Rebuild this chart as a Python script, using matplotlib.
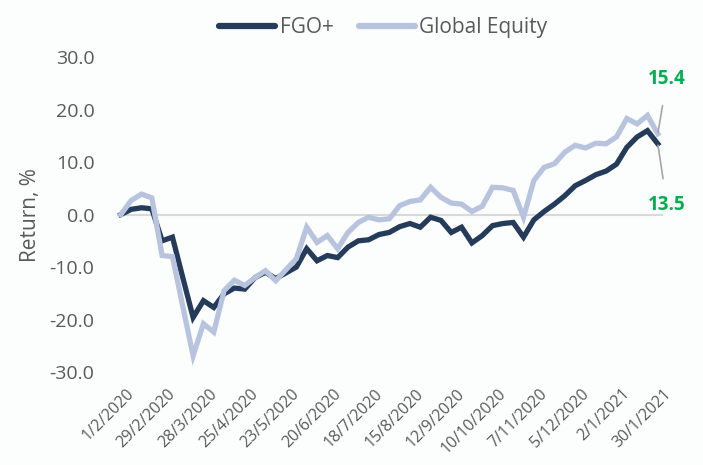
import matplotlib.pyplot as plt
import matplotlib.transforms as mtransforms
import numpy as np

# GLOBAL VARIABLES

C_FGO    = '#243b5a'
C_EQUITY = '#b8c4de'
C_ZERO   = '#d9d9d9'
C_TEXT   = '#595959'
C_LABEL  = '#00b050'

plt.rcParams['font.family'] = ['Open Sans', 'DejaVu Sans']

# weekly returns, 1/2/2020 .. 30/1/2021
fgo = [0.0, 1.0, 1.3, 1.1, -5.0, -4.3, -12.0, -19.6, -16.4, -17.7,
       -15.1, -14.0, -14.2, -12.0, -11.0, -12.2, -11.1, -10.0, -6.5, -8.8,
       -7.8, -8.2, -6.2, -5.0, -4.8, -3.8, -3.4, -2.3, -1.7, -2.4,
       -0.5, -1.1, -3.4, -2.4, -5.4, -4.0, -2.1, -1.7, -1.5, -4.3,
       -1.0, 0.6, 2.0, 3.6, 5.5, 6.5, 7.6, 8.3, 9.6, 12.8,
       14.8, 16.0, 13.5]

equity = [0.0, 2.7, 3.9, 3.2, -7.8, -8.0, -17.5, -26.9, -20.8, -22.4,
          -14.5, -12.5, -13.5, -12.0, -10.7, -12.6, -10.5, -8.4, -2.4, -5.3,
          -4.0, -6.5, -3.4, -1.5, -0.5, -1.0, -0.8, 1.7, 2.5, 2.8,
          5.2, 3.3, 2.2, 2.0, 0.6, 1.6, 5.2, 5.1, 4.6, -0.5,
          6.5, 9.0, 9.7, 11.9, 13.2, 12.7, 13.6, 13.5, 14.8, 18.3,
          17.3, 18.9, 15.4]

tick_labels = ['1/2/2020', '29/2/2020', '28/3/2020', '25/4/2020', '23/5/2020',
               '20/6/2020', '18/7/2020', '15/8/2020', '12/9/2020', '10/10/2020',
               '7/11/2020', '5/12/2020', '2/1/2021', '30/1/2021']
yticks = [30, 20, 10, 0, -10, -20, -30]


# PLOT

fig = plt.figure(figsize=(7.03, 4.65), dpi=100, facecolor='#fcfdfd')
ax  = fig.add_axes([0.166, 0.2, 0.777, 0.677])
ax.set_facecolor('#fcfdfd')

x = np.arange(len(fgo))

ax.axhline(0, color=C_ZERO, lw=1.5, zorder=1)
ax.plot(x, fgo, color=C_FGO, lw=3.8, solid_joinstyle='miter', label='FGO+', zorder=2)
ax.plot(x, equity, color=C_EQUITY, lw=3.8, solid_joinstyle='miter', label='Global Equity', zorder=3)

ax.set_xlim(-0.4, len(fgo) - 0.5)
ax.set_ylim(-30, 30)

ax.set_yticks(yticks)
ax.set_yticklabels(['%.1f' % v for v in yticks])
ax.set_xticks(x[::4])
ax.set_xticklabels(tick_labels, rotation=45, ha='right', rotation_mode='anchor')

ax.tick_params(axis='y', length=0, pad=16, labelsize=14, labelcolor=C_TEXT)
ax.tick_params(axis='x', length=0, pad=10, labelsize=11.5, labelcolor=C_TEXT)
offset = mtransforms.ScaledTranslation(4/72, 0, fig.dpi_scale_trans)
for lab in ax.get_xticklabels():
    lab.set_transform(lab.get_transform() + offset)

for s in ax.spines.values():
    s.set_visible(False)

ax.set_ylabel('Return, %', fontsize=15, color=C_TEXT, labelpad=6)

# end labels
n = len(fgo) - 1
ax.annotate('%.1f' % equity[-1], xy=(n, equity[-1]), xytext=(n + 0.9, 25.8),
            ha='center', va='center', fontsize=13.5, fontweight='bold', color=C_LABEL,
            arrowprops={'arrowstyle': '-', 'color': '#a6a6a6', 'lw': 1.2, 'shrinkA': 10, 'shrinkB': 1})
ax.annotate('%.1f' % fgo[-1], xy=(n, fgo[-1]), xytext=(n + 0.9, 1.8),
            ha='center', va='center', fontsize=13.5, fontweight='bold', color=C_LABEL,
            arrowprops={'arrowstyle': '-', 'color': '#a6a6a6', 'lw': 1.2, 'shrinkA': 10, 'shrinkB': 1})

leg = fig.legend(loc='center', bbox_to_anchor=(0.545, 0.94), ncol=2, frameon=False,
                 fontsize=15, handlelength=2.7, handletextpad=0.2, columnspacing=1.2)
for t in leg.get_texts():
    t.set_color(C_TEXT)
for h in leg.legend_handles:
    h.set_solid_capstyle('round')
    h.set_linewidth(4.5)

fig.savefig('out.png', dpi=100, facecolor=fig.get_facecolor())
